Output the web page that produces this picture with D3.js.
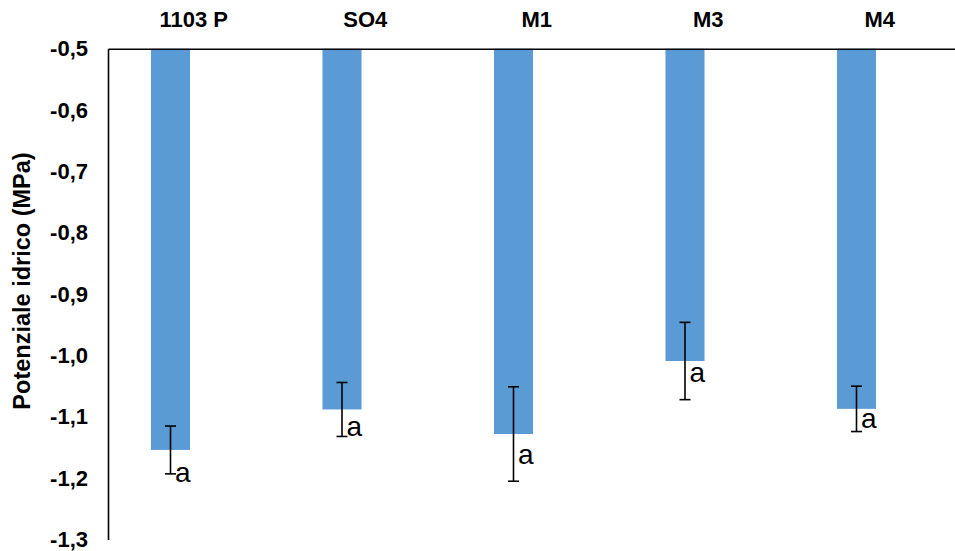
<!DOCTYPE html>
<html>
<head>
<meta charset="utf-8">
<script src="https://cdn.jsdelivr.net/npm/d3@7"></script>
<style>
  html, body { margin: 0; padding: 0; background: #fff; }
  svg { display: block; font-family: Arial, "Liberation Sans", Helvetica, sans-serif; }
</style>
</head>
<body>
<svg id="chart" width="955" height="551"></svg>
<script>
// ---- Data ----
const categories = ["1103 P", "SO4", "M1", "M3", "M4"];
const values = [-1.154, -1.088, -1.128, -1.009, -1.087];
const errors = [0.039, 0.044, 0.077, 0.063, 0.037];
const letters = ["a", "a", "a", "a", "a"];
const letterValues = [-1.192, -1.117, -1.164, -1.029, -1.105];
const yTicks = [-0.5, -0.6, -0.7, -0.8, -0.9, -1.0, -1.1, -1.2, -1.3];
const yTitle = "Potenziale idrico (MPa)";

// ---- Layout ----
const svg = d3.select("#chart");
const mLeft = 108, mRight = 965.5, mTop = 48.8, mBottom = 539.5;

const x = d3.scaleBand().domain(categories).range([mLeft, mRight]).padding(0);
// clustered layout: a visible series and an empty second series
const xs = d3.scaleBand().domain(["s1", "s2"]).range([0, x.bandwidth()])
  .paddingInner(0.161).paddingOuter(0.9245);
const y = d3.scaleLinear().domain([-0.5, -1.3]).range([mTop, mBottom]);

const fmt = v => d3.format(".1f")(v).replace(".", ",").replace("−", "-");

// bars
svg.append("g").selectAll("rect").data(categories).join("rect")
  .attr("x", d => x(d) + xs("s1"))
  .attr("y", y(-0.5))
  .attr("width", xs.bandwidth())
  .attr("height", (d, i) => y(values[i]) - y(-0.5))
  .attr("fill", "#5B9BD5");

// error bars
const eb = svg.append("g").attr("stroke", "#000").attr("stroke-width", 1.6).attr("fill", "none");
categories.forEach((c, i) => {
  const cx = x(c) + xs("s1") + xs.bandwidth() / 2;
  const y1 = y(values[i] + errors[i]), y2 = y(values[i] - errors[i]);
  eb.append("line").attr("x1", cx).attr("x2", cx).attr("y1", y1).attr("y2", y2);
  eb.append("line").attr("x1", cx - 5.5).attr("x2", cx + 5.5).attr("y1", y1).attr("y2", y1);
  eb.append("line").attr("x1", cx - 5.5).attr("x2", cx + 5.5).attr("y1", y2).attr("y2", y2);
});

// significance letters
svg.append("g").selectAll("text").data(categories).join("text")
  .attr("x", d => x(d) + xs("s1") + xs.bandwidth() / 2 + 4.5)
  .attr("y", (d, i) => y(letterValues[i]))
  .attr("dy", "0.3em")
  .attr("font-size", 28)
  .attr("fill", "#000")
  .text((d, i) => letters[i]);

// y axis
const yAxis = d3.axisLeft(y).tickValues(yTicks).tickSize(0).tickPadding(20).tickFormat(fmt);
const gy = svg.append("g").attr("transform", `translate(${mLeft},0)`).call(yAxis);
gy.select(".domain").attr("stroke", "#000").attr("stroke-width", 1.6);
gy.selectAll("text").attr("font-size", 22).attr("font-weight", "bold").attr("fill", "#000")
  .attr("font-family", "Arial, 'Liberation Sans', sans-serif");

// x axis at top
const xAxis = d3.axisTop(x).tickSize(0).tickPadding(22);
const gx = svg.append("g").attr("transform", `translate(0,${mTop})`).call(xAxis);
gx.select(".domain").attr("stroke", "#000").attr("stroke-width", 1.6);
gx.selectAll("text").attr("font-size", 22).attr("font-weight", "bold").attr("fill", "#000")
  .attr("font-family", "Arial, 'Liberation Sans', sans-serif");

// y axis title
svg.append("text")
  .attr("transform", `translate(30,281) rotate(-90)`)
  .attr("text-anchor", "middle")
  .attr("font-size", 23.5)
  .attr("font-weight", "bold")
  .attr("fill", "#000")
  .text(yTitle);
</script>
</body>
</html>
